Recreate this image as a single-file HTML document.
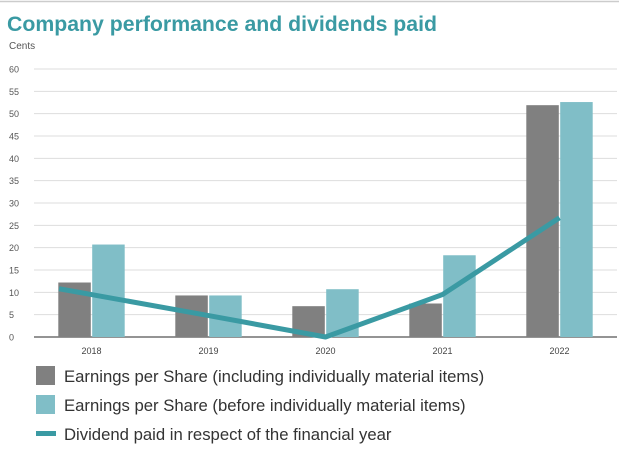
<!DOCTYPE html>
<html><head><meta charset="utf-8"><style>
body{margin:0;background:#fff;font-family:"Liberation Sans",sans-serif;}
svg text{font-family:"Liberation Sans",sans-serif;}
</style></head><body>
<svg id="c" width="619" height="450">
<line x1="0" y1="1.5" x2="619" y2="1.5" stroke="#ccc" stroke-width="1.5"/>
<text x="7" y="31" font-size="21" font-weight="bold" fill="#3a9aa3" textLength="430" lengthAdjust="spacingAndGlyphs">Company performance and dividends paid</text>
<text x="9" y="49" font-size="10" fill="#555">Cents</text>
<g id="grid"></g><g id="bars"></g><g id="lines"></g><g id="xl"></g>
<g>
<rect x="36" y="366" width="19" height="19" fill="#808080"/>
<text x="64" y="382" font-size="16.7" fill="#333">Earnings per Share (including individually material items)</text>
<rect x="36" y="395" width="19" height="19" fill="#80bec7"/>
<text x="64" y="411" font-size="16.7" fill="#333">Earnings per Share (before individually material items)</text>
<rect x="36" y="431" width="20" height="5" fill="#3a9aa3"/>
<text x="64" y="440" font-size="16.7" fill="#333">Dividend paid in respect of the financial year</text>
</g>
</svg>
<script>
const categories=["2018","2019","2020","2021","2022"];
const epsIncl=[12.2,9.3,6.9,7.5,51.9];
const epsBefore=[20.7,9.3,10.7,18.3,52.6];
const dividend=[9.5,4.8,0,9.5,26.7];
const yTicks=[0,5,10,15,20,25,30,35,40,45,50,55,60];
const NS="http://www.w3.org/2000/svg";
const x0=33,band=117,yBase=337,yTop=69,yMax=60;
const y=v=>yBase-(v/yMax)*(yBase-yTop);
const xc=i=>x0+band*(i+0.5);
function mk(tag,attrs,parent){const e=document.createElementNS(NS,tag);for(const k in attrs)e.setAttribute(k,attrs[k]);parent.appendChild(e);return e;}
const g=document.getElementById('grid');
yTicks.forEach(t=>{
 const l=mk('line',{x1:34,x2:617,y1:y(t),y2:y(t),stroke:t===0?'#555':'#ddd','stroke-width':t===0?1.2:1},g);
 
 
 const tx=mk('text',{x:9,y:y(t)+3.5,'font-size':9,fill:'#555'},g);
 tx.textContent=t;
 
 
});
const b=document.getElementById('bars');
const bw=32.5;
categories.forEach((c,i)=>{
 const r1=mk('rect',{x:xc(i)-bw-0.7,y:y(epsIncl[i]),width:bw,height:yBase-y(epsIncl[i]),fill:'#808080'},b);
 
 
 const r2=mk('rect',{x:xc(i)+0.7,y:y(epsBefore[i]),width:bw,height:yBase-y(epsBefore[i]),fill:'#80bec7'},b);
 
 
 const tx=mk('text',{x:xc(i),y:354,'font-size':9,fill:'#444','text-anchor':'middle'},document.getElementById('xl'));
 tx.textContent=c;
 
 
});
const pts=dividend.map((v,i)=>[xc(i),y(v)]);
const sl=(pts[1][1]-pts[0][1])/(pts[1][0]-pts[0][0]);
const sx=pts[0][0]-bw;
pts.unshift([sx,pts[0][1]-sl*bw]);
const p=mk('polyline',{points:pts.map(q=>q.join(',')).join(' '),fill:'none',stroke:'#3a9aa3','stroke-width':5,'stroke-linejoin':'round'},document.getElementById('lines'));


</script>
</body></html>
